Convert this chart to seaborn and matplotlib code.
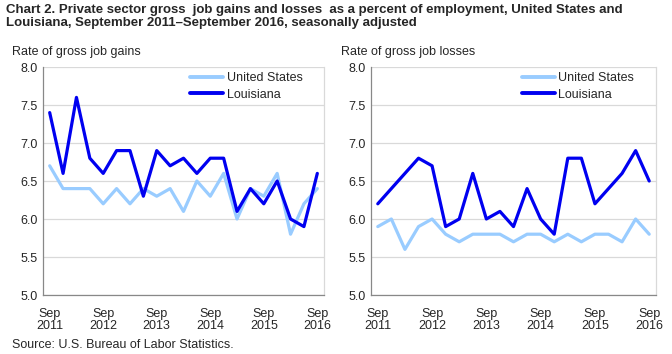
import matplotlib
matplotlib.use("Agg")
import matplotlib.pyplot as plt
import seaborn as sns
import pandas as pd
import numpy as np
from matplotlib.ticker import FixedLocator

quarters = [f"Q{i}" for i in range(21)]
tick_labels = ["Sep\n2011", "Sep\n2012", "Sep\n2013", "Sep\n2014", "Sep\n2015", "Sep\n2016"]

gains_us = [6.7, 6.4, 6.4, 6.4, 6.2, 6.4, 6.2, 6.4, 6.3, 6.4, 6.1,
            6.5, 6.3, 6.6, 6.0, 6.4, 6.3, 6.6, 5.8, 6.2, 6.4]
gains_la = [7.4, 6.6, 7.6, 6.8, 6.6, 6.9, 6.9, 6.3, 6.9, 6.7, 6.8,
            6.6, 6.8, 6.8, 6.1, 6.4, 6.2, 6.5, 6.0, 5.9, 6.6]
losses_us = [5.9, 6.0, 5.6, 5.9, 6.0, 5.8, 5.7, 5.8, 5.8, 5.8, 5.7,
             5.8, 5.8, 5.7, 5.8, 5.7, 5.8, 5.8, 5.7, 6.0, 5.8]
losses_la = [6.2, 6.4, 6.6, 6.8, 6.7, 5.9, 6.0, 6.6, 6.0, 6.1, 5.9,
             6.4, 6.0, 5.8, 6.8, 6.8, 6.2, 6.4, 6.6, 6.9, 6.5]

series_names = ["United States", "Louisiana"]
colors = {"United States": "#99CCFF", "Louisiana": "#0000F0"}

sns.set_style("white")
plt.rcParams['font.family'] = ['Liberation Sans', 'DejaVu Sans']

fig = plt.figure(figsize=(6.72, 3.54), dpi=100)
ax1 = fig.add_axes([43/672, 1-295/354, 281/672, 228/354])
ax2 = fig.add_axes([371/672, 1-295/354, 285/672, 228/354])

def make_df(us, la):
    idx = np.arange(len(quarters))
    return pd.DataFrame({
        "x": np.concatenate([idx, idx]),
        "value": us + la,
        "series": [series_names[0]] * len(us) + [series_names[1]] * len(la),
    })

for ax, us, la in [(ax1, gains_us, gains_la), (ax2, losses_us, losses_la)]:
    df = make_df(us, la)
    sns.lineplot(data=df, x="x", y="value", hue="series", palette=colors,
                 hue_order=series_names, linewidth=2.3, ax=ax, legend=True,
                 zorder=3)
    ax.set_xlim(-0.5, len(quarters) - 0.5)
    ax.set_ylim(5.0, 8.0)
    ax.set_yticks(np.arange(5.0, 8.01, 0.5))
    ax.set_yticklabels([f"{v:.1f}" for v in np.arange(5.0, 8.01, 0.5)], fontsize=9)
    ax.set_xticks(np.arange(0, len(quarters), 4))
    ax.set_xticklabels(tick_labels, fontsize=9, linespacing=1.05)
    ax.xaxis.set_minor_locator(FixedLocator(np.arange(-0.5, len(quarters), 1)))
    ax.tick_params(axis="x", which="major", length=0, pad=9)
    ax.tick_params(axis="x", which="minor", length=4, width=0.8, color="#888888", direction="out")
    ax.tick_params(axis="y", length=0, pad=4)
    ax.grid(axis="y", color="#D9D9D9", linewidth=0.9, zorder=0)
    ax.set_axisbelow(True)
    ax.set_xlabel("")
    ax.set_ylabel("")
    for s in ["left", "bottom"]:
        ax.spines[s].set_color("#888888")
        ax.spines[s].set_linewidth(0.9)
    ax.spines["right"].set_color("#D9D9D9")
    ax.spines["right"].set_linewidth(0.9)
    ax.spines["top"].set_visible(False)
    leg = ax.legend(loc="upper right", frameon=False, fontsize=9,
                    handlelength=2.6, handletextpad=0.3, labelspacing=0.35,
                    bbox_to_anchor=(0.95, 1.01), borderaxespad=0.2)
    for line in leg.get_lines():
        line.set_linewidth(2.8)

fig.text(12/672, 1-52/354, "Rate of gross job gains", fontsize=9, va="center", ha="left")
fig.text(341/672, 1-52/354, "Rate of gross job losses", fontsize=9, va="center", ha="left")

fig.text(6/672, 1-4/354,
         "Chart 2. Private sector gross  job gains and losses  as a percent of employment, United States and\n"
         "Louisiana, September 2011\u2013September 2016, seasonally adjusted",
         fontsize=9.5, fontweight="bold", va="top", ha="left", linespacing=1.15)

fig.text(12/672, 1-345/354, "Source: U.S. Bureau of Labor Statistics.", fontsize=9,
         va="center", ha="left")

fig.savefig("out.png", dpi=100)
